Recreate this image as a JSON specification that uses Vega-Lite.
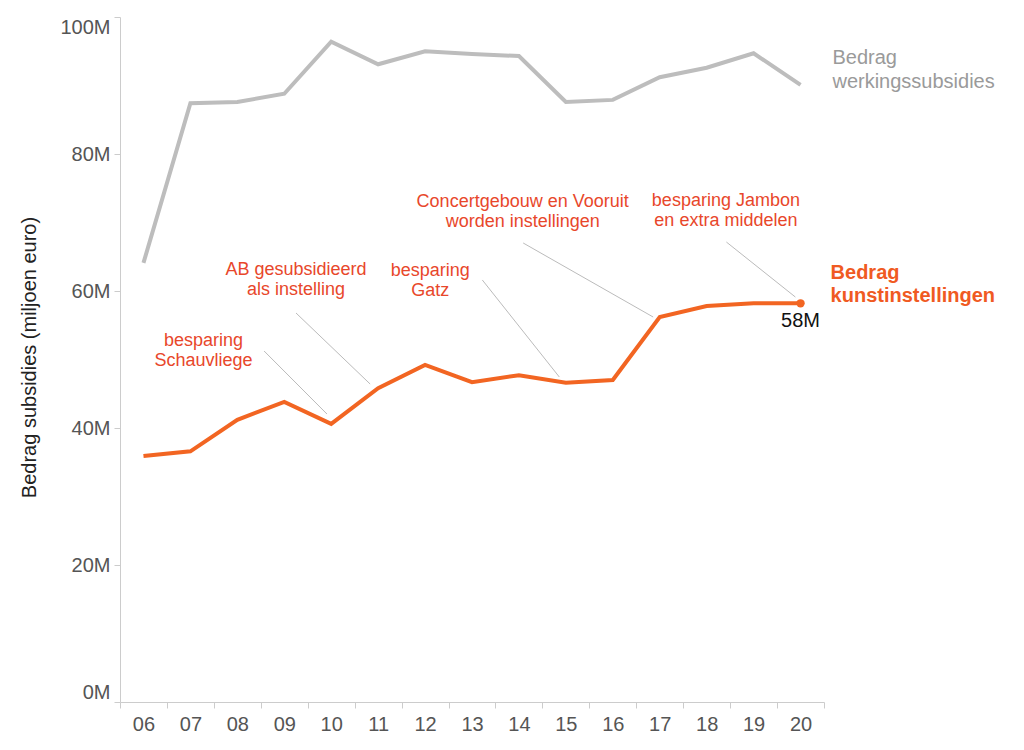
{
  "$schema": "https://vega.github.io/schema/vega-lite/v6.json",
  "width": 704,
  "height": 685,
  "autosize": {"type": "none"},
  "padding": {"left": 120, "top": 17, "right": 200, "bottom": 48},
  "config": {"view": {"stroke": null}, "font": "Liberation Sans"},
  "datasets": {
    "subsidies": [
      {"jaar": "06", "reeks": "werking", "bedrag": 64.1},
      {"jaar": "07", "reeks": "werking", "bedrag": 87.4},
      {"jaar": "08", "reeks": "werking", "bedrag": 87.6},
      {"jaar": "09", "reeks": "werking", "bedrag": 88.8},
      {"jaar": "10", "reeks": "werking", "bedrag": 96.4},
      {"jaar": "11", "reeks": "werking", "bedrag": 93.1},
      {"jaar": "12", "reeks": "werking", "bedrag": 95.0},
      {"jaar": "13", "reeks": "werking", "bedrag": 94.6},
      {"jaar": "14", "reeks": "werking", "bedrag": 94.3},
      {"jaar": "15", "reeks": "werking", "bedrag": 87.6},
      {"jaar": "16", "reeks": "werking", "bedrag": 87.9},
      {"jaar": "17", "reeks": "werking", "bedrag": 91.2},
      {"jaar": "18", "reeks": "werking", "bedrag": 92.6},
      {"jaar": "19", "reeks": "werking", "bedrag": 94.7},
      {"jaar": "20", "reeks": "werking", "bedrag": 90.1},
      {"jaar": "06", "reeks": "kunst", "bedrag": 35.9},
      {"jaar": "07", "reeks": "kunst", "bedrag": 36.6},
      {"jaar": "08", "reeks": "kunst", "bedrag": 41.2},
      {"jaar": "09", "reeks": "kunst", "bedrag": 43.8},
      {"jaar": "10", "reeks": "kunst", "bedrag": 40.6},
      {"jaar": "11", "reeks": "kunst", "bedrag": 45.8},
      {"jaar": "12", "reeks": "kunst", "bedrag": 49.2},
      {"jaar": "13", "reeks": "kunst", "bedrag": 46.7},
      {"jaar": "14", "reeks": "kunst", "bedrag": 47.7},
      {"jaar": "15", "reeks": "kunst", "bedrag": 46.6},
      {"jaar": "16", "reeks": "kunst", "bedrag": 47.0},
      {"jaar": "17", "reeks": "kunst", "bedrag": 56.2},
      {"jaar": "18", "reeks": "kunst", "bedrag": 57.8},
      {"jaar": "19", "reeks": "kunst", "bedrag": 58.2},
      {"jaar": "20", "reeks": "kunst", "bedrag": 58.2}
    ],
    "notes": [
      {"tekst": "besparing\nSchauvliege", "x": 7.28, "y": 52.65, "x1": 8.57, "y1": 51.24, "x2": 9.91, "y2": 42.04},
      {"tekst": "AB gesubsidieerd\nals instelling", "x": 9.25, "y": 63.0, "x1": 9.25, "y1": 56.79, "x2": 10.83, "y2": 46.42},
      {"tekst": "besparing\nGatz", "x": 12.11, "y": 62.85, "x1": 13.22, "y1": 61.61, "x2": 14.86, "y2": 47.45},
      {"tekst": "Concertgebouw en Vooruit\nworden instellingen", "x": 14.08, "y": 73.05, "x1": 14.09, "y1": 67.01, "x2": 16.86, "y2": 56.2},
      {"tekst": "besparing Jambon\nen extra middelen", "x": 18.41, "y": 73.2, "x1": 18.42, "y1": 67.15, "x2": 19.89, "y2": 59.12}
    ],
    "labels": [
      {"tekst": "Bedrag\nwerkingssubsidies", "x": 20.68, "y": 93.95, "reeks": "werking"},
      {"tekst": "Bedrag\nkunstinstellingen", "x": 20.64, "y": 62.65, "reeks": "kunst"}
    ]
  },
  "layer": [
    {
      "data": {"name": "subsidies"},
      "encoding": {
        "x": {
          "field": "jaar",
          "type": "ordinal",
          "scale": {"type": "band", "paddingInner": 0, "paddingOuter": 0},
          "axis": {
            "title": null,
            "labelAngle": 0,
            "labelFontSize": 20,
            "labelColor": "#555",
            "labelPadding": 6,
            "tickBand": "extent",
            "tickSize": 6,
            "tickColor": "#ccc",
            "domainColor": "#ccc"
          }
        },
        "y": {
          "field": "bedrag",
          "type": "quantitative",
          "title": "Bedrag subsidies (miljoen euro)",
          "scale": {"domain": [0, 100], "nice": false},
          "axis": {
            "values": [0, 20, 40, 60, 80, 100],
            "labelExpr": "datum.value + 'M'",
            "labelFontSize": 20,
            "labelColor": "#555",
            "labelPadding": 4,
            "labelFlush": true,
            "tickSize": 6,
            "tickColor": "#ccc",
            "domainColor": "#ccc",
            "grid": false,
            "titleFontSize": 20,
            "titleFontWeight": "normal",
            "titleColor": "#222",
            "titleAngle": -90,
            "titleBaseline": "middle",
            "titleAlign": "center",
            "titleX": -91,
            "titleY": 340
          }
        }
      },
      "layer": [
        {
          "mark": {"type": "line", "strokeWidth": 4},
          "encoding": {
            "color": {
              "field": "reeks",
              "type": "nominal",
              "scale": {"domain": ["werking", "kunst"], "range": ["#bdbdbd", "#f26522"]},
              "legend": null
            }
          }
        },
        {
          "transform": [{"filter": "datum.reeks == 'kunst' && datum.jaar == '20'"}],
          "mark": {"type": "point", "filled": true, "size": 70, "color": "#f26522", "opacity": 1},
          "encoding": {}
        },
        {
          "transform": [{"filter": "datum.reeks == 'kunst' && datum.jaar == '20'"}],
          "mark": {"type": "text", "fontSize": 20, "color": "#111", "dy": 18, "align": "center", "baseline": "middle"},
          "encoding": {"text": {"value": "58M"}}
        }
      ]
    },
    {
      "encoding": {
        "x": {"type": "quantitative", "scale": {"domain": [5.5, 20.5], "zero": false, "nice": false}, "axis": null}
      },
      "layer": [
        {
          "data": {"name": "notes"},
          "mark": {"type": "rule", "color": "#bbb", "strokeWidth": 1},
          "encoding": {
            "x": {"field": "x1", "type": "quantitative", "axis": null},
            "y": {"field": "y1", "type": "quantitative", "title": "Bedrag subsidies (miljoen euro)"},
            "x2": {"field": "x2"},
            "y2": {"field": "y2"}
          }
        },
        {
          "data": {"name": "notes"},
          "mark": {"type": "text", "fontSize": 18, "lineHeight": 20, "lineBreak": "\n", "align": "center", "baseline": "middle", "color": "#e8472b"},
          "encoding": {
            "x": {"field": "x", "type": "quantitative", "axis": null},
            "y": {"field": "y", "type": "quantitative", "title": "Bedrag subsidies (miljoen euro)"},
            "text": {"field": "tekst"}
          }
        },
        {
          "data": {"name": "labels"},
          "transform": [{"filter": "datum.reeks == 'werking'"}],
          "mark": {"type": "text", "fontSize": 20, "lineHeight": 24, "lineBreak": "\n", "align": "left", "baseline": "middle", "color": "#9a9a9a"},
          "encoding": {
            "x": {"field": "x", "type": "quantitative", "axis": null},
            "y": {"field": "y", "type": "quantitative", "title": "Bedrag subsidies (miljoen euro)"},
            "text": {"field": "tekst"}
          }
        },
        {
          "data": {"name": "labels"},
          "transform": [{"filter": "datum.reeks == 'kunst'"}],
          "mark": {"type": "text", "fontSize": 20, "fontWeight": "bold", "lineHeight": 23, "lineBreak": "\n", "align": "left", "baseline": "middle", "color": "#f05a22"},
          "encoding": {
            "x": {"field": "x", "type": "quantitative", "axis": null},
            "y": {"field": "y", "type": "quantitative", "title": "Bedrag subsidies (miljoen euro)"},
            "text": {"field": "tekst"}
          }
        }
      ]
    }
  ],
  "resolve": {"scale": {"x": "independent"}}
}
